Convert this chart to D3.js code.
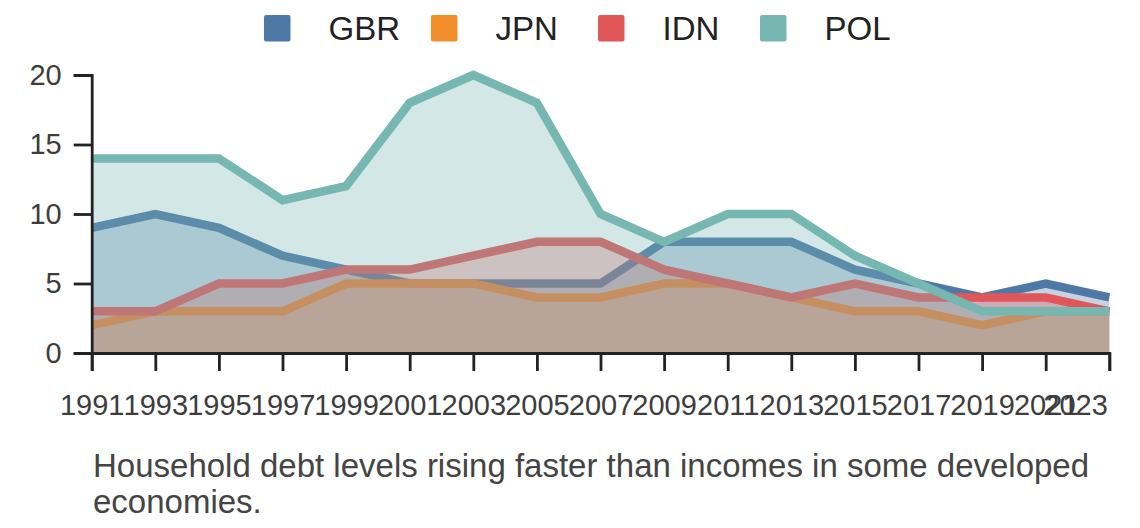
<!DOCTYPE html>
<html><head><meta charset="utf-8">
<script src="https://cdn.jsdelivr.net/npm/d3@7"></script>
<style>body{margin:0;background:#fff}svg{display:block}text{font-family:"Liberation Sans",Arial,sans-serif}</style>
</head><body><svg id="c" width="1140" height="528"></svg>
<script>
const years = [1991,1993,1995,1997,1999,2001,2003,2005,2007,2009,2011,2013,2015,2017,2019,2021,2023];
const seriesNames = ["GBR","JPN","IDN","POL"];
const colors = ["#4e79a7","#f28e2b","#e15759","#76b7b2"];
const gbr = [9,10,9,7,6,5,5,5,5,8,8,8,6,5,4,5,4];
const jpn = [2,3,3,3,5,5,5,4,4,5,5,4,3,3,2,3,3];
const idn = [3,3,5,5,6,6,7,8,8,6,5,4,5,4,4,4,3];
const pol = [14,14,14,11,12,18,20,18,10,8,10,10,7,5,3,3,3];
const yTicks = [0,5,10,15,20];
const caption = ["Household debt levels rising faster than incomes in some developed","economies."];

const values = [gbr,jpn,idn,pol];
const svg = d3.select("#c");
const x = d3.scaleLinear().domain([1991,2023]).range([91.7,1109.3]);
const y = d3.scaleLinear().domain([0,20]).range([353,75]);
const fs = 29, txt = "#3d3d3d";

const area = d3.area().x((d,i)=>x(years[i])).y0(y(0)).y1(d=>y(d));
const line = d3.line().x((d,i)=>x(years[i])).y(d=>y(d));

const g = svg.append("g");
values.forEach((v,k)=>{
  g.append("path").attr("d",area(v)).attr("fill",colors[k]).attr("fill-opacity",0.33);
  g.append("path").attr("d",line(v)).attr("fill","none").attr("stroke",colors[k]).attr("stroke-width",8.5).attr("stroke-linejoin","miter");
});

// y axis
const ya = svg.append("g").attr("transform",`translate(${x(1991)},0)`)
  .call(d3.axisLeft(y).tickValues(yTicks).tickSize(18).tickPadding(12));
// x axis
const xa = svg.append("g").attr("transform",`translate(0,${y(0)})`)
  .call(d3.axisBottom(x).tickValues(years).tickFormat(d=>String(d)).tickSize(18).tickPadding(23.5));
[ya,xa].forEach(a=>{
  a.selectAll("path,line").attr("stroke","#222").attr("stroke-width",2.8);
  a.selectAll("text").attr("font-size",fs).attr("fill",txt).attr("font-family","Liberation Sans, Arial, sans-serif");
});
xa.selectAll(".tick text").filter(d=>d===years[years.length-1]).attr("text-anchor","end").attr("dx",-2);

// legend
const lg = svg.append("g");
const legX = [264,431,598,760];
seriesNames.forEach((n,k)=>{
  lg.append("rect").attr("x",legX[k]).attr("y",15).attr("width",26.5).attr("height",26.5).attr("rx",2).attr("fill",colors[k]);
  lg.append("text").attr("x",legX[k]+64.5).attr("y",40).attr("font-size",33).attr("fill","#222").text(n);
});

// caption
caption.forEach((t,i)=>{
  svg.append("text").attr("x",93).attr("y",476.7+i*36).attr("font-size",33).attr("fill","#444").text(t);
});
</script></body></html>
